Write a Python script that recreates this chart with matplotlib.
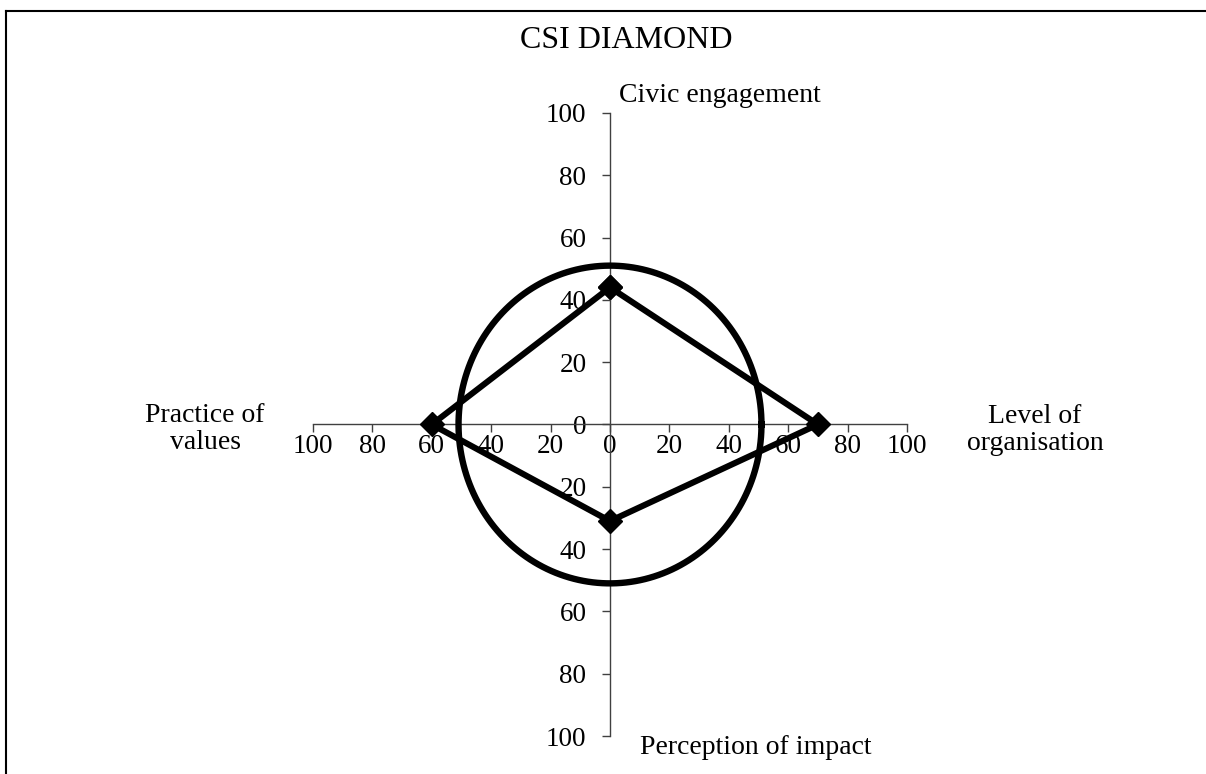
import numpy as np
import matplotlib.pyplot as plt
from matplotlib.lines import Line2D

plt.rcParams['font.family'] = ['Liberation Serif', 'DejaVu Serif']

# CSI diamond scores (0-100) on the four dimensions
dims = ['Civic engagement', 'Level of organisation', 'Perception of impact', 'Practice of values']
scores = [44, 70, 31, 60]
circle_r = 51  # reference circle
ticks = [-100, -80, -60, -40, -20, 0, 20, 40, 60, 80, 100]
tick_labels = [str(abs(t)) for t in ticks]

W, H = 1206, 774
fig = plt.figure(figsize=(W / 100, H / 100), dpi=100)

def fx(px):
    return px / W

def fy(py):
    return 1 - py / H

ax = fig.add_axes([fx(313), fy(736), fx(907) - fx(313), fy(113) - fy(736)])
ax.set_xlim(-100, 100)
ax.set_ylim(-100, 100)

for s in ['top', 'right']:
    ax.spines[s].set_visible(False)
ax.spines['left'].set_position('zero')
ax.spines['bottom'].set_position('zero')
for s in ['left', 'bottom']:
    ax.spines[s].set_color('#404040')
    ax.spines[s].set_linewidth(1)

ax.set_xticks(ticks)
ax.set_xticklabels(tick_labels)
ax.set_yticks(ticks)
ax.set_yticklabels(tick_labels)
ax.tick_params(axis='x', direction='out', length=6, width=1, color='#404040', pad=1, labelsize=19.5)
ax.tick_params(axis='y', direction='out', length=6, width=1, color='#404040', pad=11, labelsize=19.5)

# circle
th = np.linspace(0, 2 * np.pi, 400)
ax.plot(circle_r * np.cos(th), circle_r * np.sin(th), color='black', lw=4.6, zorder=3)

# diamond: top, right, bottom, left
xs = [0, scores[1], 0, -scores[3], 0]
ys = [scores[0], 0, -scores[2], 0, scores[0]]
ax.plot(xs, ys, color='black', lw=4.4, marker='D', markersize=12, zorder=4)

# outer frame (only top/left visible in reference)
fig.add_artist(Line2D([fx(6), 1], [fy(11), fy(11)], color='black', lw=1.5))
fig.add_artist(Line2D([fx(6), fx(6)], [0, fy(11)], color='black', lw=1.5))

fig.text(fx(520), fy(48), 'CSI DIAMOND', ha='left', va='baseline', fontsize=23)
fig.text(fx(619), fy(95), dims[0], ha='left', va='center', fontsize=20)
fig.text(fx(640), fy(747), dims[2], ha='left', va='center', fontsize=20)
fig.text(fx(205), fy(429), 'Practice of\nvalues', ha='center', va='center',
         multialignment='center', fontsize=20, linespacing=1.1)
fig.text(fx(1035), fy(430), 'Level of\norganisation', ha='center', va='center',
         multialignment='center', fontsize=20, linespacing=1.1)

fig.savefig('out.png', dpi=100)
